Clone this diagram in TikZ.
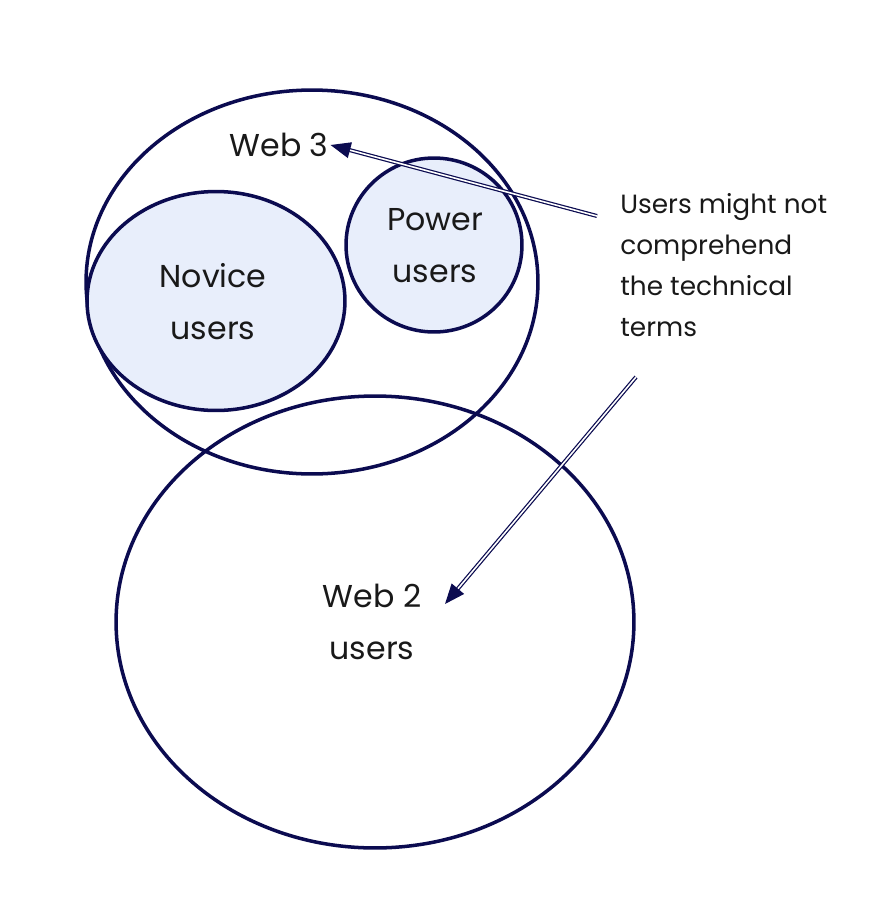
\documentclass[tikz,border=0pt]{standalone}
\usepackage{fontspec}
\setmainfont{Poppins}
\usetikzlibrary{shapes.geometric,arrows.meta}
\definecolor{navy}{HTML}{0B0B50}
\definecolor{paleblue}{HTML}{E8EEFB}

\begin{document}
\begin{tikzpicture}
		[x=0.02cm, y=-0.02cm,
		set/.style ={ellipse, draw=navy, line width=2pt, inner sep=0pt},
		subset/.style ={set, fill=paleblue},
		label/.style ={align=center, text=black!90, inner sep=1pt, font=\fontsize{18}{29.5}\selectfont},
		note/.style ={align=left, text=black!90, inner sep=0pt, font=\fontsize{15}{23.4}\selectfont},
		line/.style ={draw=navy, double=white, double distance=0.9pt, line width=0.7pt,
		-{Triangle[length=0.4cm, width=0.32cm, fill=navy]}}]
		\useasboundingbox (0,0) rectangle (871,913);

		% sets
		\node[set, minimum width=9.04cm, minimum height=7.68cm] (web3) at (312,282) {};
		\node[subset, minimum width=5.16cm, minimum height=4.38cm] (novice) at (216,301) {};
		\node[subset, minimum width=3.52cm, minimum height=3.48cm] (power) at (434,245) {};
		\node[set, minimum width=10.36cm, minimum height=9.04cm] (web2) at (375,622) {};

		% texts
		\node[label] (web3text) at (279,145) {Web 3};
		\node[label] (novicetext) at (213,302) {Novice\\users};
		\node[label] (powertext) at (435,246) {Power\\users};
		\node[label] (web2text) at (372,622) {Web 2\\users};
		\node[note, anchor=north west] (note) at (620,193)
			{Users might not\\comprehend\\the technical\\terms};

		% arrows
		\coordinate (from3) at (597,216);
		\coordinate (from2) at (636,377);
		\coordinate (to2) at (445,604);
		\path[line] (from3) -- (web3text.east);
		\path[line] (from2) -- (to2);

	\end{tikzpicture}
\end{document}
